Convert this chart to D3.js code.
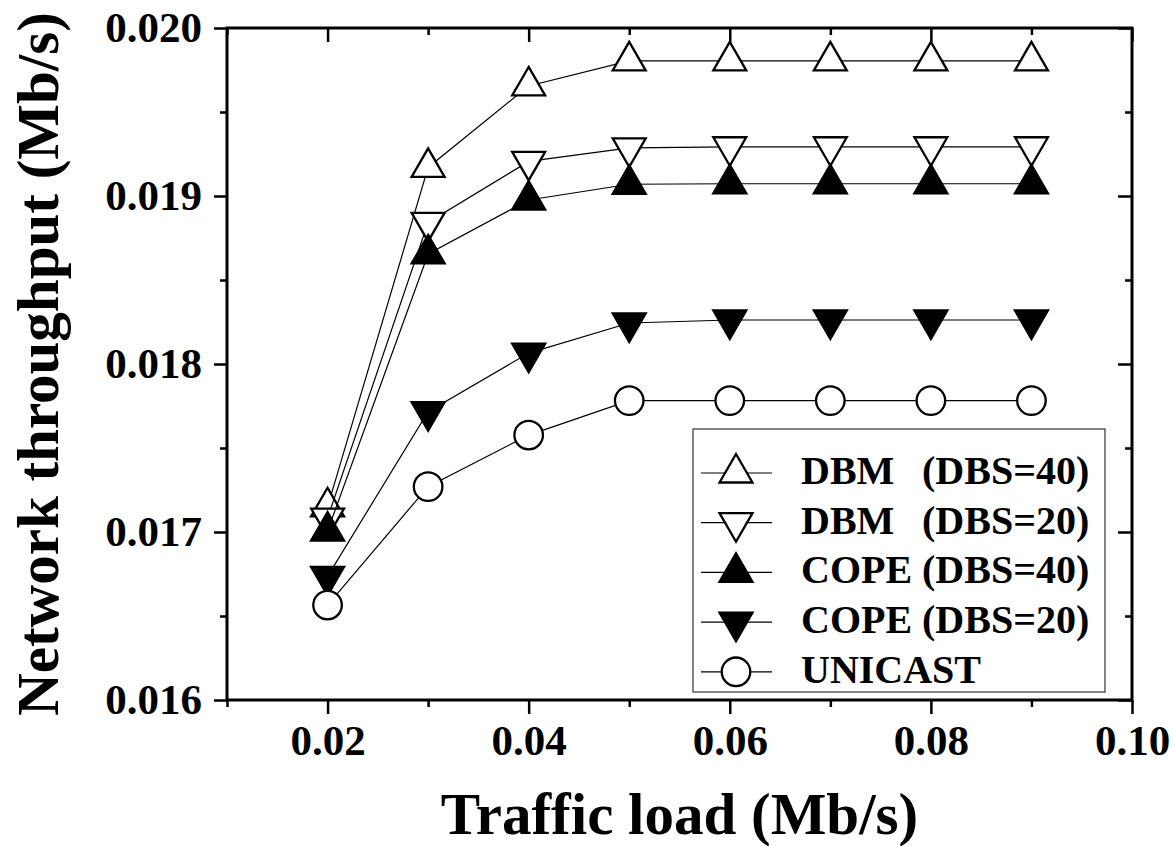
<!DOCTYPE html>
<html lang="en">
<head>
    <meta charset="UTF-8">
    <title>Network throughput vs traffic load</title>
    <script src="https://d3js.org/d3.v7.min.js"></script>
    <style>
        body { margin: 0; background: #fff; }
        svg text {
            font-family: "Liberation Serif", "Times New Roman", serif;
            font-weight: bold;
            fill: #000;
        }
        .tick-label { font-size: 43px; }
        .axis-title { font-size: 59px; }
        .legend-text { font-size: 40px; }
    </style>
</head>
<body>
    <script>
        var w = 1173;
        var h = 846;

        // data
        var loads = [0.02, 0.03, 0.04, 0.05, 0.06, 0.07, 0.08, 0.09];
        var dbm40 = [0.01715, 0.01917, 0.019655, 0.019804, 0.019804, 0.019804, 0.019804, 0.019804];
        var dbm20 = [0.017083, 0.018843, 0.019206, 0.019286, 0.019293, 0.019293, 0.019293, 0.019293];
        var cope40 = [0.017006, 0.018655, 0.018976, 0.01907, 0.019073, 0.019073, 0.019073, 0.019073];
        var cope20 = [0.016736, 0.017716, 0.018065, 0.018244, 0.018262, 0.018262, 0.018262, 0.018262];
        var unicast = [0.016565, 0.01727, 0.017577, 0.017782, 0.017782, 0.017782, 0.017782, 0.017782];

        var seriesNames = ["DBM", "DBM", "COPE", "COPE", "UNICAST"];
        var seriesParams = ["(DBS=40)", "(DBS=20)", "(DBS=40)", "(DBS=20)", ""];
        var seriesValues = [dbm40, dbm20, cope40, cope20, unicast];

        var xMajor = [0.02, 0.04, 0.06, 0.08, 0.10];
        var xMinor = [0.01, 0.03, 0.05, 0.07, 0.09];
        var yMajor = [0.016, 0.017, 0.018, 0.019, 0.020];
        var yMinor = [0.0165, 0.0175, 0.0185, 0.0195];

        var margin = {left: 227, right: 41, top: 28, bottom: 146};
        var pw = w - margin.left - margin.right;
        var ph = h - margin.top - margin.bottom;

        var svg = d3.select("body")
            .append("svg")
            .attr("width", w)
            .attr("height", h);

        var g = svg.append("g")
            .attr("transform", "translate(" + margin.left + "," + margin.top + ")");

        var xScale = d3.scaleLinear().domain([0.01, 0.10]).range([0, pw]);
        var yScale = d3.scaleLinear().domain([0.016, 0.020]).range([ph, 0]);

        // marker shapes
        var triUp = d3.symbol().type(d3.symbolTriangle).size(470);
        var circ = d3.symbol().type(d3.symbolCircle).size(640);
        var markers = [
            {path: triUp(), rot: 0, fill: "#fff"},
            {path: triUp(), rot: 180, fill: "#fff"},
            {path: triUp(), rot: 0, fill: "#000"},
            {path: triUp(), rot: 180, fill: "#000"},
            {path: circ(), rot: 0, fill: "#fff"}
        ];

        function addAxis(axis, transform) {
            var a = g.append("g")
                .attr("transform", transform)
                .call(axis);
            a.select(".domain").remove();
            a.selectAll(".tick line").attr("stroke", "#000").attr("stroke-width", 2.5);
            return a;
        }

        // bottom axis
        var bx = addAxis(d3.axisBottom(xScale).tickValues(xMajor).tickSize(14).tickPadding(10)
            .tickFormat(d3.format(".2f")).tickSizeOuter(0), "translate(0," + ph + ")");
        bx.selectAll("text").attr("class", "tick-label");
        addAxis(d3.axisBottom(xScale).tickValues(xMinor).tickSize(7).tickFormat("").tickSizeOuter(0),
            "translate(0," + ph + ")");

        // top axis (inward ticks)
        addAxis(d3.axisTop(xScale).tickValues(xMajor).tickSize(-14).tickFormat("").tickSizeOuter(0), "translate(0,0)");
        addAxis(d3.axisTop(xScale).tickValues(xMinor).tickSize(-7).tickFormat("").tickSizeOuter(0), "translate(0,0)");

        // left axis
        var ly = addAxis(d3.axisLeft(yScale).tickValues(yMajor).tickSize(13).tickPadding(12)
            .tickFormat(d3.format(".3f")).tickSizeOuter(0), "translate(0,0)");
        ly.selectAll("text").attr("class", "tick-label");
        addAxis(d3.axisLeft(yScale).tickValues(yMinor).tickSize(7).tickFormat("").tickSizeOuter(0), "translate(0,0)");

        // right axis (inward ticks)
        addAxis(d3.axisRight(yScale).tickValues(yMajor).tickSize(-14).tickFormat("").tickSizeOuter(0),
            "translate(" + pw + ",0)");
        addAxis(d3.axisRight(yScale).tickValues(yMinor).tickSize(-7).tickFormat("").tickSizeOuter(0),
            "translate(" + pw + ",0)");

        // frame
        g.append("rect")
            .attr("x", 0)
            .attr("y", 0)
            .attr("width", pw)
            .attr("height", ph)
            .attr("fill", "none")
            .attr("stroke", "#000")
            .attr("stroke-width", 3);

        var line = d3.line()
            .x(function (d, i) { return xScale(loads[i]); })
            .y(function (d) { return yScale(d); });

        // series, drawn one after the other (line then markers)
        seriesValues.forEach(function (vals, s) {
            var sg = g.append("g").attr("class", "series");
            sg.append("path")
                .datum(vals)
                .attr("d", line)
                .attr("fill", "none")
                .attr("stroke", "#000")
                .attr("stroke-width", 1.2);
            sg.selectAll(".marker")
                .data(vals)
                .enter()
                .append("path")
                .attr("class", "marker")
                .attr("d", markers[s].path)
                .attr("transform", function (d, i) {
                    return "translate(" + xScale(loads[i]) + "," + yScale(d) + ") rotate(" + markers[s].rot + ")";
                })
                .attr("fill", markers[s].fill)
                .attr("stroke", "#000")
                .attr("stroke-width", 2.3);
        });

        // legend
        var lg = svg.append("g").attr("transform", "translate(693,429)");
        lg.append("rect")
            .attr("width", 412)
            .attr("height", 263)
            .attr("fill", "#fff")
            .attr("stroke", "#333")
            .attr("stroke-width", 1.2);

        seriesNames.forEach(function (name, s) {
            var yy = 44 + s * 49.7;
            lg.append("line")
                .attr("x1", 8).attr("x2", 79)
                .attr("y1", yy).attr("y2", yy)
                .attr("stroke", "#000")
                .attr("stroke-width", 1.2);
            lg.append("path")
                .attr("d", markers[s].path)
                .attr("transform", "translate(43," + yy + ") rotate(" + markers[s].rot + ")")
                .attr("fill", markers[s].fill)
                .attr("stroke", "#000")
                .attr("stroke-width", 2.3);
            var t = lg.append("text")
                .attr("class", "legend-text")
                .attr("x", 108)
                .attr("y", yy + 11);
            t.append("tspan").text(name);
            if (seriesParams[s]) {
                t.append("tspan").attr("x", 229).text(seriesParams[s]);
            }
        });

        // axis titles
        svg.append("text")
            .attr("class", "axis-title")
            .attr("text-anchor", "middle")
            .attr("x", margin.left + pw / 2)
            .attr("y", 834)
            .text("Traffic load (Mb/s)");

        svg.append("text")
            .attr("class", "axis-title")
            .attr("text-anchor", "middle")
            .attr("transform", "translate(58," + (margin.top + ph / 2) + ") rotate(-90)")
            .text("Network throughput (Mb/s)");
    </script>
</body>
</html>
